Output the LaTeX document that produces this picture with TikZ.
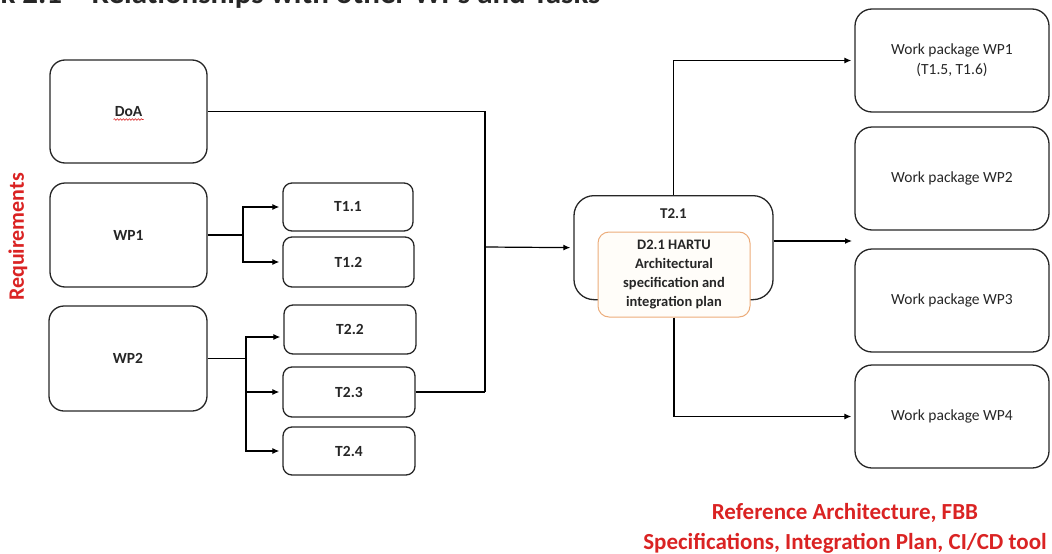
\documentclass[tikz,border=0pt]{standalone}
\usepackage{fontspec}
\setmainfont{Carlito}
\usetikzlibrary{arrows.meta,calc,decorations.pathmorphing}
\definecolor{reqred}{RGB}{218,35,35}
\definecolor{edgegray}{RGB}{38,38,38}
\definecolor{delivorange}{RGB}{236,172,122}
\definecolor{delivfill}{RGB}{255,253,249}
\begin{document}
\begin{tikzpicture}[x=1pt,y=-1pt,
  box/.style={draw=edgegray, line width=1.3pt, rounded corners=15pt, inner sep=0pt,
    align=center, text=black!85, font=\fontsize{15.5}{18}\selectfont\bfseries},
  taskbox/.style={box, rounded corners=9pt},
  wpbox/.style={box, rounded corners=17pt, font=\fontsize{15.5}{20}\selectfont},
  delivbox/.style={draw=delivorange, fill=delivfill, line width=1pt, rounded corners=11pt,
    inner sep=0pt, align=center, text=black!85, font=\fontsize{14.5}{19}\selectfont\bfseries},
  redlabel/.style={text=reqred, font=\fontsize{23}{30}\selectfont\bfseries, align=center},
  conn/.style={line width=1.2pt, draw=black},
  arr/.style={conn, -{Latex[length=7pt,width=6pt]}, shorten >=3pt}]
\useasboundingbox (0,0) rectangle (1052,554);
\clip (0,0) rectangle (1052,554);

% heading (runs off the top edge of the page)
\node[anchor=base west, inner sep=0pt, text=black!85,
  font=\fontsize{31}{36}\selectfont\bfseries] (title) at (-12,3)
  {sk 2.1 – Relationships with other WPs and Tasks};

% side label
\node[redlabel, font=\fontsize{22}{26}\selectfont\bfseries, rotate=90] (req) at (18,237) {Requirements};

% inputs
\node[box, minimum width=157pt, minimum height=103pt] (doa) at (128.5,111.5) {DoA};
\node[box, minimum width=157pt, minimum height=104pt] (wp1) at (128.5,235) {WP1};
\node[box, minimum width=158pt, minimum height=105pt] (wp2) at (128,358.5) {WP2};

\node[taskbox, minimum width=130pt, minimum height=48pt] (t11) at (348,207) {T1.1};
\node[taskbox, minimum width=131pt, minimum height=50pt] (t12) at (348.5,262) {T1.2};
\node[taskbox, minimum width=132pt, minimum height=49pt] (t22) at (350,329.5) {T2.2};
\node[taskbox, minimum width=132pt, minimum height=50pt] (t23) at (349,392) {T2.3};
\node[taskbox, minimum width=132pt, minimum height=48pt] (t24) at (349,451) {T2.4};

% spell-check underline under DoA
\draw[reqred, line width=0.6pt, decorate,
  decoration={snake, amplitude=0.8pt, segment length=3pt}]
  ($(doa.center)+(-15,8)$) -- ($(doa.center)+(15,8)$);

% central task and deliverable
\node[box, rounded corners=20pt, minimum width=199pt, minimum height=104pt,
  anchor=north] (t21) at (673.5,195) {};
\node[font=\fontsize{15}{18}\selectfont\bfseries, text=black!85] (t21lbl) at (673.5,214) {T2.1};
\node[delivbox, minimum width=152pt, minimum height=85pt] (d21) at (674,274.5)
  {D2.1 HARTU\\Architectural\\specification and\\integration plan};

% outputs
\node[wpbox, minimum width=194pt, minimum height=103pt] (wpa) at (952,60.5)
  {Work package WP1\\(T1.5, T1.6)};
\node[wpbox, minimum width=194pt, minimum height=103pt] (wpb) at (952,178.5) {Work package WP2};
\node[wpbox, minimum width=194pt, minimum height=103pt] (wpc) at (952,300.5) {Work package WP3};
\node[wpbox, minimum width=194pt, minimum height=103pt] (wpd) at (952,416.5) {Work package WP4};

% bottom label
\node[redlabel] (outlbl) at (845,528)
  {Reference Architecture, FBB\\Specifications, Integration Plan, CI/CD tool};

% WP1 -> its tasks
\coordinate (j1) at (243,235);
\draw[conn] (wp1.east) -- (j1);
\draw[arr] (j1) |- (t11.west);
\draw[arr] (j1) |- (t12.west);

% WP2 -> its tasks
\coordinate (j2) at (246,358.5);
\coordinate (t22in) at ($(t22.west)+(0,7.5)$);
\draw[conn] (wp2.east) -- (j2);
\draw[arr] (j2) |- (t22in);
\draw[arr] (j2) |- (t23.west);
\draw[arr] (j2) |- (t24.west);

% collecting bus into T2.1
\coordinate (busbot) at (485,392);
\coordinate (bus) at (485,247);
\draw[conn] (doa.east) -| (busbot);
\draw[conn] (t23.east) -- (busbot);
\draw[arr] (bus) -- (t21.west);

% T2.1 -> work packages
\coordinate (gap) at (855,241);
\draw[arr] (t21.north) |- (wpa.west);
\draw[arr] (t21.east |- gap) -- (gap);
\draw[arr] (d21.south) |- (wpd.west);
\end{tikzpicture}
\end{document}
